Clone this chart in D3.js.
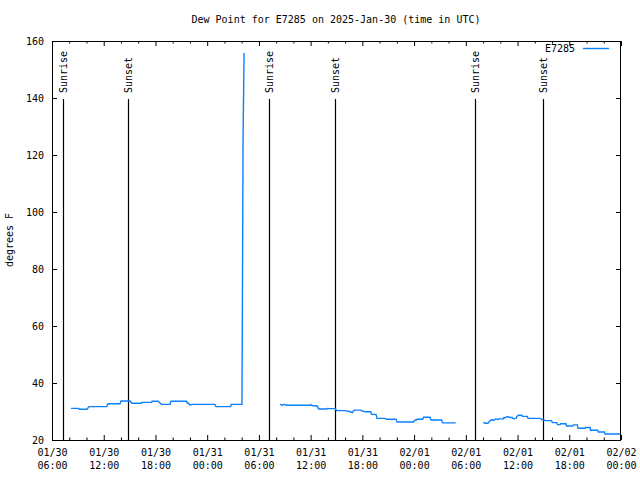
<!DOCTYPE html>
<html>
<head>
<meta charset="utf-8">
<script src="https://cdn.jsdelivr.net/npm/d3@7"></script>
<style>
  html, body { margin: 0; padding: 0; background: #fff; }
  svg { display: block; }
  text { font-family: "DejaVu Sans Mono", "Liberation Mono", monospace; font-size: 10px; fill: #000; }
</style>
</head>
<body>
<svg id="chart" width="640" height="480"></svg>
<script>
// ---- data (hours since 2025-01-30 00:00 UTC, dew point in °F) ----
const titleText = "Dew Point for E7285 on 2025-Jan-30 (time in UTC)";
const yLabel = "degrees F";
const seriesName = "E7285";

const hours1 = [8.20, 9.10, 9.16, 10.06, 10.29, 12.35, 12.50, 13.89, 14.00, 15.05, 15.25, 16.40, 16.44, 17.55, 17.62, 18.30, 18.70, 19.69, 19.80, 21.62, 21.70, 21.85, 22.01, 22.24, 24.91, 25.02, 26.73, 26.78, 28.03, 28.08, 28.16, 28.28];
const dew1   = [31.1, 31.1, 30.8, 30.8, 31.7, 31.7, 32.7, 32.7, 33.7, 33.7, 32.9, 32.9, 33.2, 33.2, 33.6, 33.6, 32.5, 32.5, 33.6, 33.6, 32.9, 32.9, 32.2, 32.5, 32.5, 31.7, 31.7, 32.5, 32.5, 63.5, 125.0, 155.8];

const hours2 = [32.45, 32.68, 32.91, 33.22, 35.93, 36.04, 36.22, 36.74, 36.94, 37.86, 37.96, 38.25, 38.88, 39.00, 40.07, 40.57, 40.83, 41.03, 41.84, 41.90, 42.35, 42.97, 43.06, 43.58, 43.70, 44.63, 44.74, 45.90, 46.02, 47.91, 48.12, 48.30, 48.34, 49.00, 49.09, 49.85, 49.96, 51.20, 51.30, 52.83];
const dew2   = [32.5, 32.2, 32.5, 32.2, 32.2, 32.4, 32.0, 32.0, 30.9, 30.9, 31.1, 31.0, 31.0, 30.3, 30.3, 29.9, 29.6, 30.5, 30.5, 30.2, 29.9, 29.9, 29.0, 29.0, 27.6, 27.6, 27.3, 27.3, 26.3, 26.3, 27.0, 27.0, 27.3, 27.3, 28.0, 28.0, 27.0, 27.0, 26.0, 26.0];

const hours3 = [56.03, 56.23, 56.57, 56.81, 57.04, 57.30, 57.47, 57.70, 57.85, 58.35, 58.40, 58.63, 58.75, 58.93, 59.05, 59.40, 59.47, 59.82, 59.90, 60.09, 60.48, 60.58, 61.13, 61.21, 62.61, 62.72, 62.99, 63.30, 63.92, 64.06, 64.54, 64.64, 64.93, 64.99, 65.62, 65.68, 66.40, 66.47, 66.93, 67.01, 67.83, 67.88, 68.41, 68.47, 69.30, 69.37, 70.07, 70.15, 71.89];
const dew3   = [26.2, 25.9, 25.9, 26.8, 27.1, 27.0, 27.4, 27.2, 27.4, 27.4, 27.8, 27.8, 28.2, 28.2, 27.9, 27.9, 27.5, 27.5, 28.2, 28.7, 28.7, 28.3, 28.3, 27.6, 27.6, 27.3, 27.0, 26.8, 26.8, 26.1, 26.1, 25.4, 25.4, 25.7, 25.7, 24.9, 24.9, 25.3, 25.3, 24.1, 24.1, 24.4, 24.4, 23.4, 23.4, 22.8, 22.8, 22.1, 22.1];

const eventHours  = [7.28, 14.82, 31.17, 38.83, 55.07, 62.95];
const eventLabels = ["Sunrise", "Sunset", "Sunrise", "Sunset", "Sunrise", "Sunset"];

const xMajorHours = [6, 12, 18, 24, 30, 36, 42, 48, 54, 60, 66, 72];
const yTicks = [20, 40, 60, 80, 100, 120, 140, 160];

// ---- setup ----
const base = Date.UTC(2025, 0, 30);
const toDate = h => new Date(base + h * 3600e3);

const W = 640, H = 480;
const m = { left: 52, right: 19, top: 41, bottom: 40 };
const svg = d3.select("#chart");

const x = d3.scaleUtc().domain([toDate(6), toDate(72)]).range([m.left, W - m.right]);
const y = d3.scaleLinear().domain([20, 160]).range([H - m.bottom, m.top]);

// title
svg.append("text").attr("x", 336).attr("y", 23).attr("text-anchor", "middle").text(titleText);

// y label
svg.append("text").attr("transform", "translate(13,240) rotate(-90)").attr("text-anchor", "middle").text(yLabel);

const majorTicks = xMajorHours.map(toDate);
const minorTicks = d3.range(6, 72.01, 2).filter(h => h % 6 !== 0).map(toDate);

// bottom axis (ticks inward)
const gx = svg.append("g").attr("transform", `translate(0,${H - m.bottom})`)
  .call(d3.axisBottom(x).tickValues(majorTicks).tickSizeInner(-5).tickSizeOuter(0).tickPadding(10)
    .tickFormat(d3.utcFormat("%m/%d")));
gx.selectAll(".tick text").each(function(d) {
  const t = d3.select(this);
  t.text(null).attr("dy", null).attr("y", 16);
  t.append("tspan").attr("x", 0).text(d3.utcFormat("%m/%d")(d));
  t.append("tspan").attr("x", 0).attr("dy", 13).text(d3.utcFormat("%H:%M")(d));
});
svg.append("g").attr("transform", `translate(0,${H - m.bottom})`)
  .call(d3.axisBottom(x).tickValues(minorTicks).tickSizeInner(-2.5).tickSizeOuter(0).tickFormat(""));
// top mirror
svg.append("g").attr("transform", `translate(0,${m.top})`)
  .call(d3.axisTop(x).tickValues(majorTicks).tickSizeInner(-5).tickSizeOuter(0).tickFormat(""));
svg.append("g").attr("transform", `translate(0,${m.top})`)
  .call(d3.axisTop(x).tickValues(minorTicks).tickSizeInner(-2.5).tickSizeOuter(0).tickFormat(""));

// left axis
svg.append("g").attr("transform", `translate(${m.left},0)`)
  .call(d3.axisLeft(y).tickValues(yTicks).tickSizeInner(-5).tickSizeOuter(0).tickPadding(8).tickFormat(d3.format("d")));
// right mirror
svg.append("g").attr("transform", `translate(${W - m.right},0)`)
  .call(d3.axisRight(y).tickValues(yTicks).tickSizeInner(-5).tickSizeOuter(0).tickFormat(""));

svg.selectAll(".domain").remove();
svg.selectAll(".tick line").attr("stroke", "#000");
svg.selectAll(".tick text").attr("fill", "#000").style("font-size", "10px")
  .style("font-family", "'DejaVu Sans Mono', monospace");

// border
svg.append("rect").attr("x", m.left + 0.5).attr("y", m.top + 0.5)
  .attr("width", W - m.left - m.right - 1 + 0.0).attr("height", H - m.top - m.bottom - 0.0)
  .attr("fill", "none").attr("stroke", "#000").attr("stroke-width", 1);

// sunrise / sunset markers
const ev = svg.append("g");
eventHours.forEach((h, i) => {
  const xp = Math.round(x(toDate(h))) + 0.5;
  ev.append("line").attr("x1", xp).attr("x2", xp).attr("y1", 99).attr("y2", H - m.bottom)
    .attr("stroke", "#000").attr("stroke-width", 1.2);
  ev.append("text").attr("transform", `translate(${xp + 3.5},93) rotate(-90)`)
    .attr("text-anchor", "start").text(eventLabels[i]);
});

// data lines
const line = d3.line().x(d => x(toDate(d[0]))).y(d => y(d[1]));
const segs = [[hours1, dew1], [hours2, dew2], [hours3, dew3]];
segs.forEach(([hs, vs]) => {
  svg.append("path").datum(hs.map((h, i) => [h, vs[i]]))
    .attr("d", line).attr("fill", "none").attr("stroke", "#0a80ff").attr("stroke-width", 1.4);
});

// legend
svg.append("text").attr("x", 575).attr("y", 52).attr("text-anchor", "end").text(seriesName);
svg.append("line").attr("x1", 583).attr("x2", 609).attr("y1", 48.5).attr("y2", 48.5)
  .attr("stroke", "#0a80ff").attr("stroke-width", 1.4);
</script>
</body>
</html>
